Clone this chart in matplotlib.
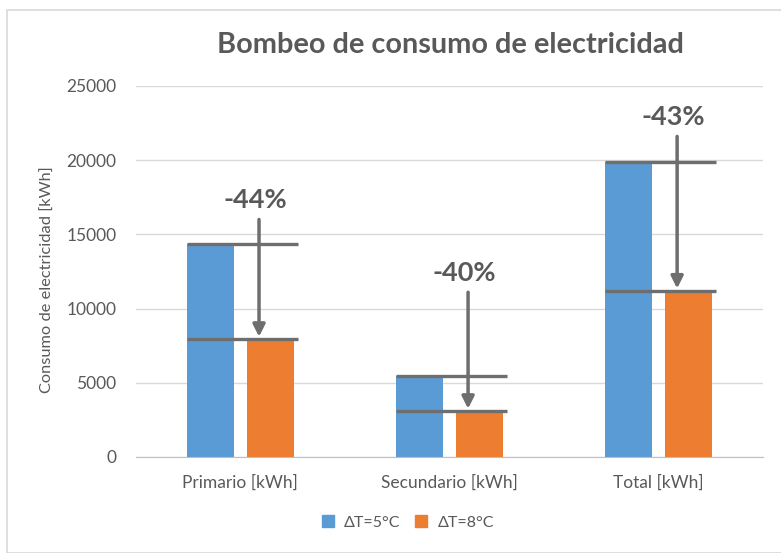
import matplotlib.pyplot as plt
from matplotlib.patches import Rectangle
from matplotlib.lines import Line2D
import numpy as np

categories = ['Primario [kWh]', 'Secundario [kWh]', 'Total [kWh]']
dt5 = [14350, 5450, 19850]
dt8 = [7950, 3100, 11200]
pct_labels = ['-44%', '-40%', '-43%']
arrow_top = [16000, 11100, 21600]
series_names = ['ΔT=5°C', 'ΔT=8°C']

plt.rcParams['font.family'] = ['Lato', 'DejaVu Sans']

blue = '#5B9BD5'
orange = '#ED7D31'
txt = '#595959'
lgray = '#6E6E6E'

fig = plt.figure(figsize=(7.81, 5.53), dpi=100)
ax = fig.add_axes([0.174, 0.1736, 0.803, 0.671])

x = np.arange(len(categories))
off = 0.144
w = 0.225
ax.bar(x - off, dt5, width=w, color=blue, zorder=2)
ax.bar(x + off, dt8, width=w, color=orange, zorder=2)

# reference lines across both bars + arrows
for i in range(len(categories)):
    x0 = x[i] - off - w / 2
    x1 = x[i] + off + w / 2 + 0.02
    ax.hlines([dt5[i], dt8[i]], x0, x1, colors=lgray, lw=2.4, zorder=3)
    xa = x[i] + off - 0.055
    ax.annotate('', xy=(xa, dt8[i] + 150), xytext=(xa, arrow_top[i]),
                arrowprops=dict(arrowstyle='-|>', color=lgray, lw=2.5,
                                mutation_scale=18, shrinkA=0, shrinkB=0),
                zorder=4)
    ax.text(xa - 0.02, arrow_top[i] + 500, pct_labels[i], ha='center', va='bottom',
            fontsize=19.5, fontweight='bold', color=txt, zorder=5)

ax.set_xlim(-0.5, 2.5)
ax.set_ylim(0, 25000)
ax.set_yticks(np.arange(0, 25001, 5000))
ax.set_xticks(x)
ax.set_xticklabels(categories)
ax.grid(axis='y', color='#D9D9D9', lw=1, zorder=0)
ax.tick_params(axis='both', length=0, colors=txt, labelsize=12.5)
ax.tick_params(axis='y', pad=14)
ax.tick_params(axis='x', pad=13)
for s in ['top', 'right', 'left']:
    ax.spines[s].set_visible(False)
ax.spines['bottom'].set_color('#BFBFBF')

fig.text(450 / 781, 1 - 45 / 553, 'Bombeo de consumo de electricidad', ha='center', va='center',
         fontsize=20.8, fontweight='bold', color=txt)
fig.text(48 / 781, 1 - 280 / 553, 'Consumo de electricidad [kWh]', rotation=90,
         ha='center', va='center', fontsize=11.8, color=txt)

handles = [Line2D([], [], marker='s', ls='', color=blue, markersize=9),
           Line2D([], [], marker='s', ls='', color=orange, markersize=9)]
leg = fig.legend(handles, series_names, loc='center', bbox_to_anchor=(403 / 781, 1 - 523 / 553),
                 ncol=2, frameon=False, fontsize=11.5, handletextpad=0.0, columnspacing=0.3,
                 labelcolor=txt)

fig.patches.append(Rectangle((7 / 781, 0), 1.0, 1 - 10 / 553, transform=fig.transFigure,
                             fill=False, edgecolor='#D9D9D9', lw=1.2))

fig.savefig('out.png', dpi=100)
